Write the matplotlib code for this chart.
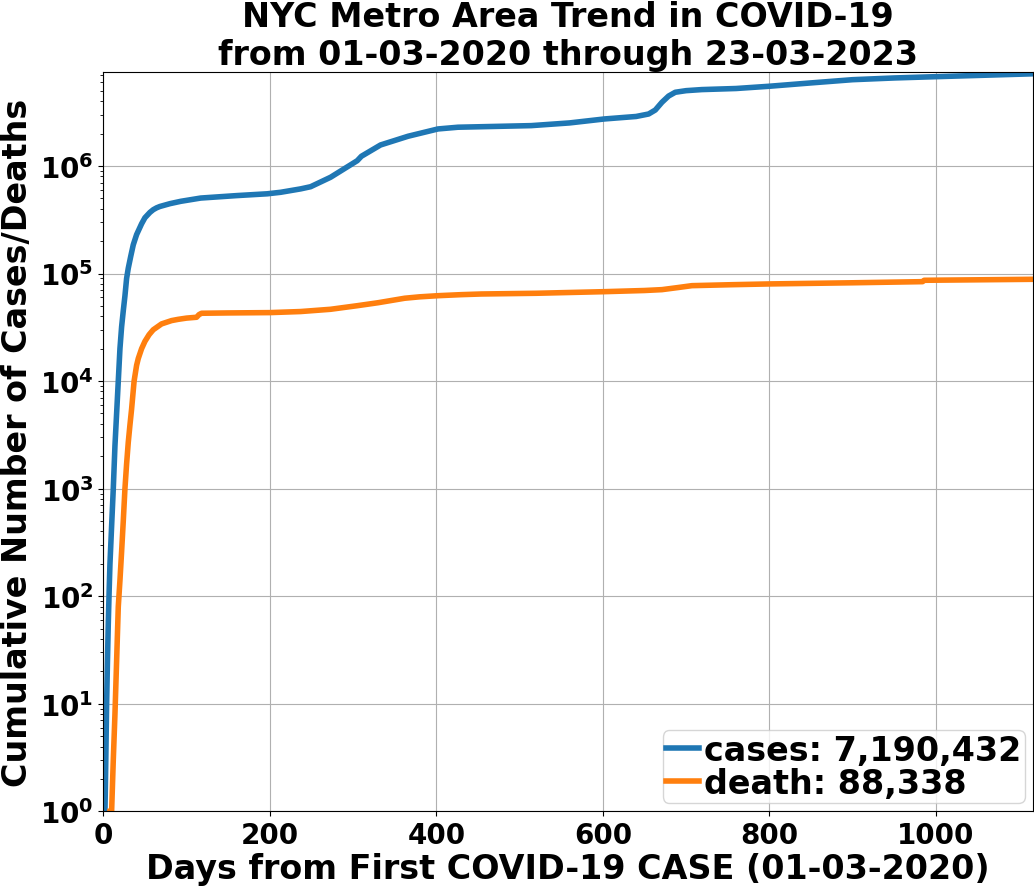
import matplotlib

matplotlib.use("Agg")
import matplotlib.pyplot as plt

# cumulative counts (days since 01-03-2020)
case_days = [2, 3, 4, 5, 6, 7, 8, 10, 12, 14, 16, 18, 20, 22, 24, 26, 28, 30, 33, 36, 40, 46,
             50, 56, 60, 64, 68, 80, 93, 117, 160, 197, 213, 237, 249, 273, 305, 310, 333, 366,
             402, 426, 514, 560, 602, 640, 655, 663, 671, 679, 687, 700, 719, 760, 800, 850,
             900, 950, 1000, 1117]
cases = [1, 3, 10, 25, 56, 110, 200, 450, 1000, 2500, 5000, 10000, 20000, 32000, 45000, 62000,
         90000, 112000, 145000, 185000, 230000, 290000, 330000, 370000, 392000, 408000, 420000,
         446000, 469000, 503000, 530000, 551000, 569000, 612000, 641000, 785000, 1119000,
         1230000, 1567000, 1888000, 2208000, 2291000, 2371000, 2512000, 2735000, 2884000,
         3041000, 3311000, 3908000, 4467000, 4842000, 5012000, 5129000, 5248000, 5508000,
         5916000, 6339000, 6577000, 6761000, 7190432]

death_days = [8, 10, 12, 14, 16, 18, 20, 22, 24, 26, 28, 30, 32, 34, 37, 40, 42, 46, 50, 55,
              60, 70, 82, 90, 100, 112, 115, 118, 150, 200, 237, 273, 305, 330, 362, 380, 402,
              430, 454, 520, 602, 650, 671, 690, 707, 755, 800, 900, 984, 986, 1117]
deaths = [1, 1, 3, 8, 25, 80, 140, 260, 500, 1000, 1700, 2700, 3900, 5500, 10000, 14000, 16200,
          20000, 23400, 27000, 30000, 34000, 36500, 37500, 38500, 39200, 41500, 42700, 43000,
          43300, 44300, 46500, 50200, 53500, 58900, 60700, 62200, 63600, 64500, 65500, 67800,
          69500, 70800, 74000, 77100, 78700, 80000, 82000, 84000, 86500, 88338]

total_days = 1117
start_date = "01-03-2020"
end_date = "23-03-2023"

plt.rcParams["font.weight"] = "bold"
plt.rcParams["axes.titleweight"] = "bold"
plt.rcParams["axes.labelweight"] = "bold"

fig = plt.figure(figsize=(10.34, 8.87), dpi=100)
ax = fig.add_axes([0.0999, 0.0842, 0.8994, 0.8332])

ax.plot(case_days, cases, lw=4, color="#1f77b4", label=f"cases: {cases[-1]:,}")
ax.plot(death_days, deaths, lw=4, color="#ff7f0e", label=f"death: {deaths[-1]:,}")

ax.set_yscale("log")
ax.set_xlim(0, total_days)
ax.set_ylim(1, 7.43e6)
ax.grid(True, which="major")
ax.tick_params(axis="both", which="major", labelsize=20)

ax.set_title(f"NYC Metro Area Trend in COVID-19\nfrom {start_date} through {end_date}", fontsize=24)
ax.set_xlabel(f"Days from First COVID-19 CASE ({start_date})", fontsize=24, labelpad=2)
ax.set_ylabel("Cumulative Number of Cases/Deaths", fontsize=24)

ax.legend(loc="lower right", fontsize=24, labelspacing=0.0, borderpad=0.1,
          handlelength=1.0, handletextpad=0.15, borderaxespad=0.25)

fig.savefig("out.png", dpi=100)
